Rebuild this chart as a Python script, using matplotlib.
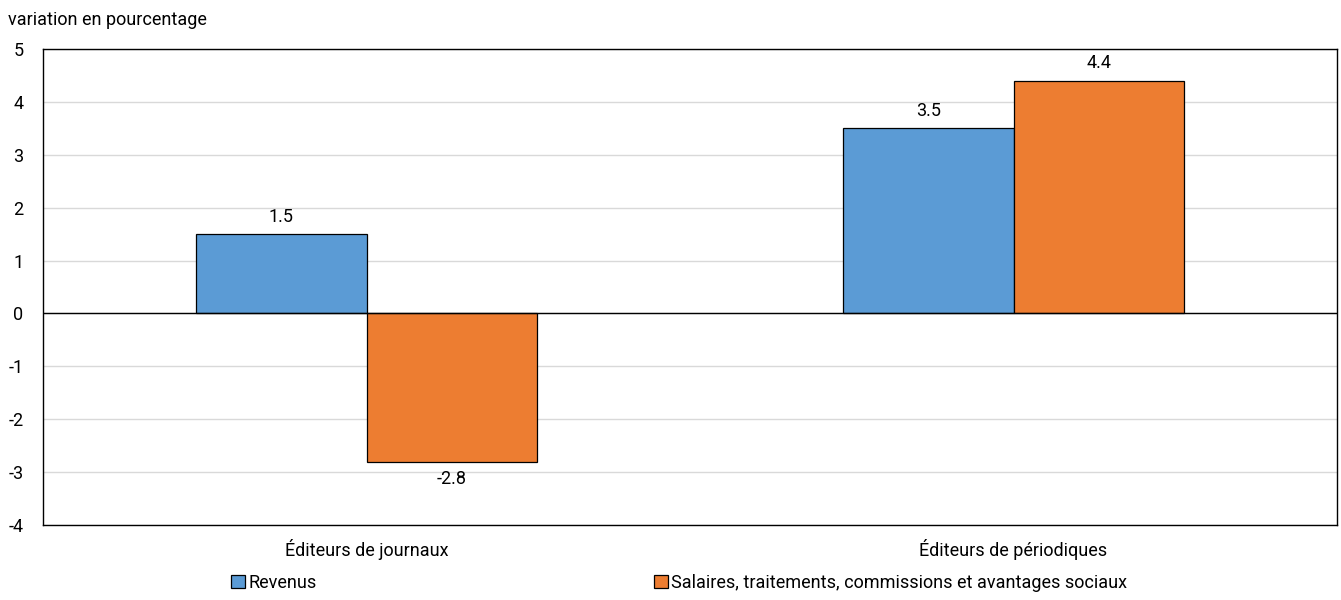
import matplotlib.pyplot as plt
import numpy as np

plt.rcParams['font.family'] = ['Liberation Sans Narrow', 'Roboto', 'DejaVu Sans']
plt.rcParams['axes.unicode_minus'] = False

categories = ["Éditeurs de journaux", "Éditeurs de périodiques"]
series_names = ["Revenus", "Salaires, traitements, commissions et avantages sociaux"]
revenus = [1.5, 3.5]
salaires = [-2.8, 4.4]
colors = ["#5B9BD5", "#ED7D31"]

fig = plt.figure(figsize=(13.41, 6), dpi=100)
ax = fig.add_axes([43 / 1341, 75 / 600, 1294 / 1341, 476 / 600])

x = np.arange(len(categories))
w = 0.263
b1 = ax.bar(x - w / 2, revenus, w, color=colors[0], edgecolor="black", linewidth=0.9,
            label=series_names[0], zorder=3)
b2 = ax.bar(x + w / 2, salaires, w, color=colors[1], edgecolor="black", linewidth=0.9,
            label=series_names[1], zorder=3)

# value labels
for bars in (b1, b2):
    for rect in bars:
        v = rect.get_height()
        cx = rect.get_x() + rect.get_width() / 2
        if v >= 0:
            ax.annotate(f"{v:.1f}", (cx, v), xytext=(0, 6), textcoords="offset points",
                        ha="center", va="bottom", fontsize=13)
        else:
            ax.annotate(f"{v:.1f}", (cx, v), xytext=(0, -6), textcoords="offset points",
                        ha="center", va="top", fontsize=13)

ax.set_xlim(-0.5, 1.5)
ax.set_ylim(-4, 5)
ax.set_yticks(range(-4, 6))
ax.set_xticks(x)
ax.set_xticklabels(categories)
ax.tick_params(axis="both", length=0, labelsize=13)
ax.tick_params(axis="y", pad=14)
ax.tick_params(axis="x", pad=10)
ax.grid(axis="y", color="#d9d9d9", linewidth=1, zorder=0)
ax.axhline(0, color="black", linewidth=1, zorder=4)
for s in ax.spines.values():
    s.set_color("black")
    s.set_linewidth(1)

fig.text(8 / 1341, 1 - 20 / 600, "variation en pourcentage", fontsize=13, va="center", ha="left")

fig.legend(handles=[b1, b2], loc="center left", bbox_to_anchor=(231 / 1341, 1 - 583 / 600),
           ncol=2, frameon=False, fontsize=13, handlelength=0.75, handleheight=0.75,
           handletextpad=0.2, columnspacing=18.7, borderaxespad=0, borderpad=0)

fig.savefig("out.png", dpi=100)
